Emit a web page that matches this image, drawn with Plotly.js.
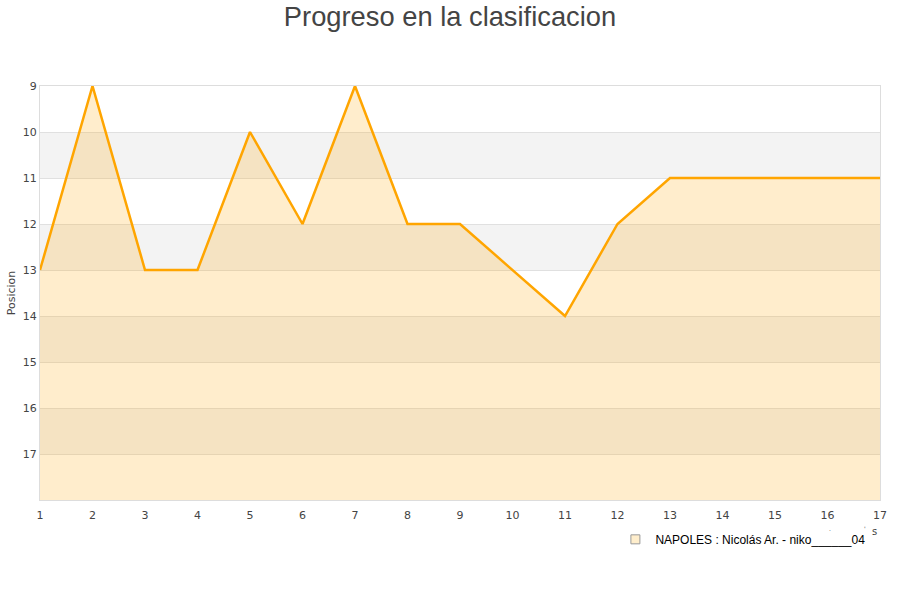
<!DOCTYPE html>
<html>
<head>
<meta charset="utf-8">
<script src="https://cdn.plot.ly/plotly-3.0.1.min.js"></script>
<style>html,body{margin:0;padding:0;background:#fff;}#chart{width:900px;height:600px;}</style>
</head>
<body>
<div id="chart"></div>
<script>
const jornadas = [1,2,3,4,5,6,7,8,9,10,11,12,13,14,15,16,17];
const posiciones = [13,9,13,13,10,12,9,12,12,13,14,12,11,11,11,11,11];
const yTicks = [9,10,11,12,13,14,15,16,17];
const bandas = [[10,11],[12,13],[14,15],[16,17]];
const fondo = 18;
const serieNombre = 'NAPOLES : Nicolás Ar. - niko______04';

const base = {
  x: jornadas, y: jornadas.map(() => fondo),
  mode: 'lines', line: {width: 0, color: 'rgba(0,0,0,0)'},
  showlegend: false, hoverinfo: 'skip'
};
const serie = {
  x: jornadas, y: posiciones,
  mode: 'lines', line: {color: '#FFA500', width: 2.5},
  fill: 'tonexty', fillcolor: 'rgba(255,165,0,0.2)',
  showlegend: false, name: serieNombre
};
const leyenda = {
  x: [null], y: [null], mode: 'markers', name: serieNombre,
  marker: {symbol: 'square', size: 9, color: '#ffeecc', line: {color: '#999', width: 1}},
  showlegend: true
};

const shapes = bandas.map(b => ({
  type: 'rect', xref: 'paper', yref: 'y', x0: 0, x1: 1, y0: b[0], y1: b[1],
  fillcolor: '#f3f3f3', line: {width: 0}, layer: 'below'
}));

const layout = {
  width: 900, height: 600,
  margin: {l: 40, r: 20, t: 86, b: 100},
  paper_bgcolor: '#fff', plot_bgcolor: '#fff',
  title: {text: 'Progreso en la clasificacion', x: 0.5, xanchor: 'center', y: 0.973, yanchor: 'middle',
          font: {family: 'Liberation Sans, Arial, sans-serif', size: 27.3, color: '#444'}},
  font: {family: 'DejaVu Sans, sans-serif', size: 11, color: '#444'},
  xaxis: {range: [1, 17], tickvals: jornadas, ticks: 'outside', ticklen: 5, tickcolor: 'rgba(0,0,0,0)',
          showgrid: false, zeroline: false,
          showline: true, linecolor: '#dddddd', mirror: true, linewidth: 1,
          tickfont: {size: 11, color: '#444'}, fixedrange: true},
  yaxis: {range: [18, 9], tickvals: yTicks, ticks: '', showgrid: true, gridcolor: '#e0e0e0',
          zeroline: false, showline: true, linecolor: '#dddddd', mirror: true, linewidth: 1,
          tickfont: {size: 11, color: '#444'},
          title: {text: 'Posicion', font: {size: 11, color: '#444'}, standoff: 4}},
  shapes: shapes,
  showlegend: true,
  legend: {orientation: 'h', x: 0.685, xanchor: 'left', y: -0.095, yanchor: 'middle',
           font: {family: 'Liberation Sans, Arial, sans-serif', size: 12, color: '#000'},
           bgcolor: 'rgba(0,0,0,0)'},
  annotations: [
    {xref: 'paper', yref: 'paper', x: 0.994, y: -0.075, text: 's', showarrow: false,
     xanchor: 'center', yanchor: 'middle', font: {size: 10, color: '#444'}},
    {xref: 'paper', yref: 'paper', x: 0.941, y: -0.068, text: '.', showarrow: false,
     xanchor: 'center', yanchor: 'middle', font: {size: 6, color: '#444'}},
    {xref: 'paper', yref: 'paper', x: 0.982, y: -0.068, text: "'", showarrow: false,
     xanchor: 'center', yanchor: 'middle', font: {size: 6, color: '#444'}}
  ]
};

Plotly.newPlot('chart', [base, serie, leyenda], layout, {displayModeBar: false, staticPlot: true});
</script>
</body>
</html>
